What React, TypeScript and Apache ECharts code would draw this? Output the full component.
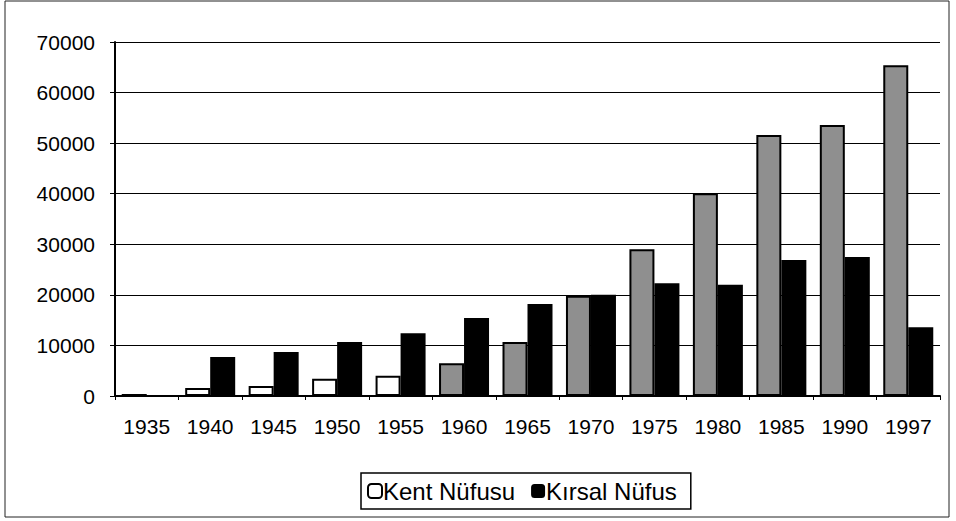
import React, { useEffect, useRef } from "react";
import * as echarts from "echarts";

const categories = ["1935", "1940", "1945", "1950", "1955", "1960", "1965", "1970", "1975", "1980", "1985", "1990", "1997"];
const kentNufusu = [400, 1600, 2000, 3400, 4000, 6500, 10700, 19800, 29000, 40100, 51600, 53600, 65400];
const kirsalNufus = [200, 7700, 8700, 10700, 12400, 15400, 18200, 20000, 22300, 22000, 26900, 27500, 13600];
const yTicks = { min: 0, max: 70000, interval: 10000 };

export default function App() {
  const ref = useRef<HTMLDivElement>(null);
  useEffect(() => {
    if (!ref.current) return;
    const chart = echarts.init(ref.current, null, { renderer: "svg" });
    const font = "Arial, 'Liberation Sans', sans-serif";
    chart.setOption({
      animation: false,
      backgroundColor: "#fff",
      graphic: [
        {
          type: "rect",
          shape: { x: 5, y: 1, width: 944, height: 516 },
          style: { fill: "none", stroke: "#222", lineWidth: 1 },
          silent: true,
        },
      ],
      grid: { left: 115, right: 16, top: 42, bottom: 125 },
      legend: {
        left: 361,
        top: 473,
        itemWidth: 14,
        itemHeight: 14,
        itemGap: 16,
        padding: [6, 14, 6, 6],
        borderColor: "#000",
        borderWidth: 1.5,
        textStyle: { fontFamily: font, fontSize: 24, color: "#000", padding: [0, 0, 0, -4] },
        data: [
          { name: "Kent Nüfusu", itemStyle: { color: "#fff", borderColor: "#000", borderWidth: 2 } },
          { name: "Kırsal Nüfus", itemStyle: { color: "#000" } },
        ],
      },
      xAxis: {
        type: "category",
        data: categories,
        axisLine: { lineStyle: { color: "#000", width: 2 } },
        axisTick: { show: true, length: 4, lineStyle: { color: "#000" } },
        axisLabel: { fontFamily: font, fontSize: 21, color: "#000", margin: 20, interval: 0, hideOverlap: false },
      },
      yAxis: {
        type: "value",
        min: yTicks.min,
        max: yTicks.max,
        interval: yTicks.interval,
        axisLine: { show: true, lineStyle: { color: "#000", width: 2 } },
        axisTick: { show: true, length: 5, lineStyle: { color: "#000" } },
        splitLine: { lineStyle: { color: "#000", width: 1 } },
        axisLabel: { fontFamily: font, fontSize: 21, color: "#000", margin: 20, formatter: (v: number) => String(v) },
      },
      series: [
        {
          name: "Kent Nüfusu",
          type: "bar",
          data: kentNufusu,
          barWidth: 25,
          barGap: "0%",
          itemStyle: {
            color: (p: any) => (p.value >= 6000 ? "#8f8f8f" : "#ffffff"),
            borderColor: "#000",
            borderWidth: 2,
          },
        },
        {
          name: "Kırsal Nüfus",
          type: "bar",
          data: kirsalNufus,
          barWidth: 25,
          barGap: "0%",
          itemStyle: { color: "#000" },
        },
      ],
    });
    return () => chart.dispose();
  }, []);
  return <div ref={ref} style={{ width: 956, height: 521, position: "absolute", left: 0, top: 0 }} />;
}
